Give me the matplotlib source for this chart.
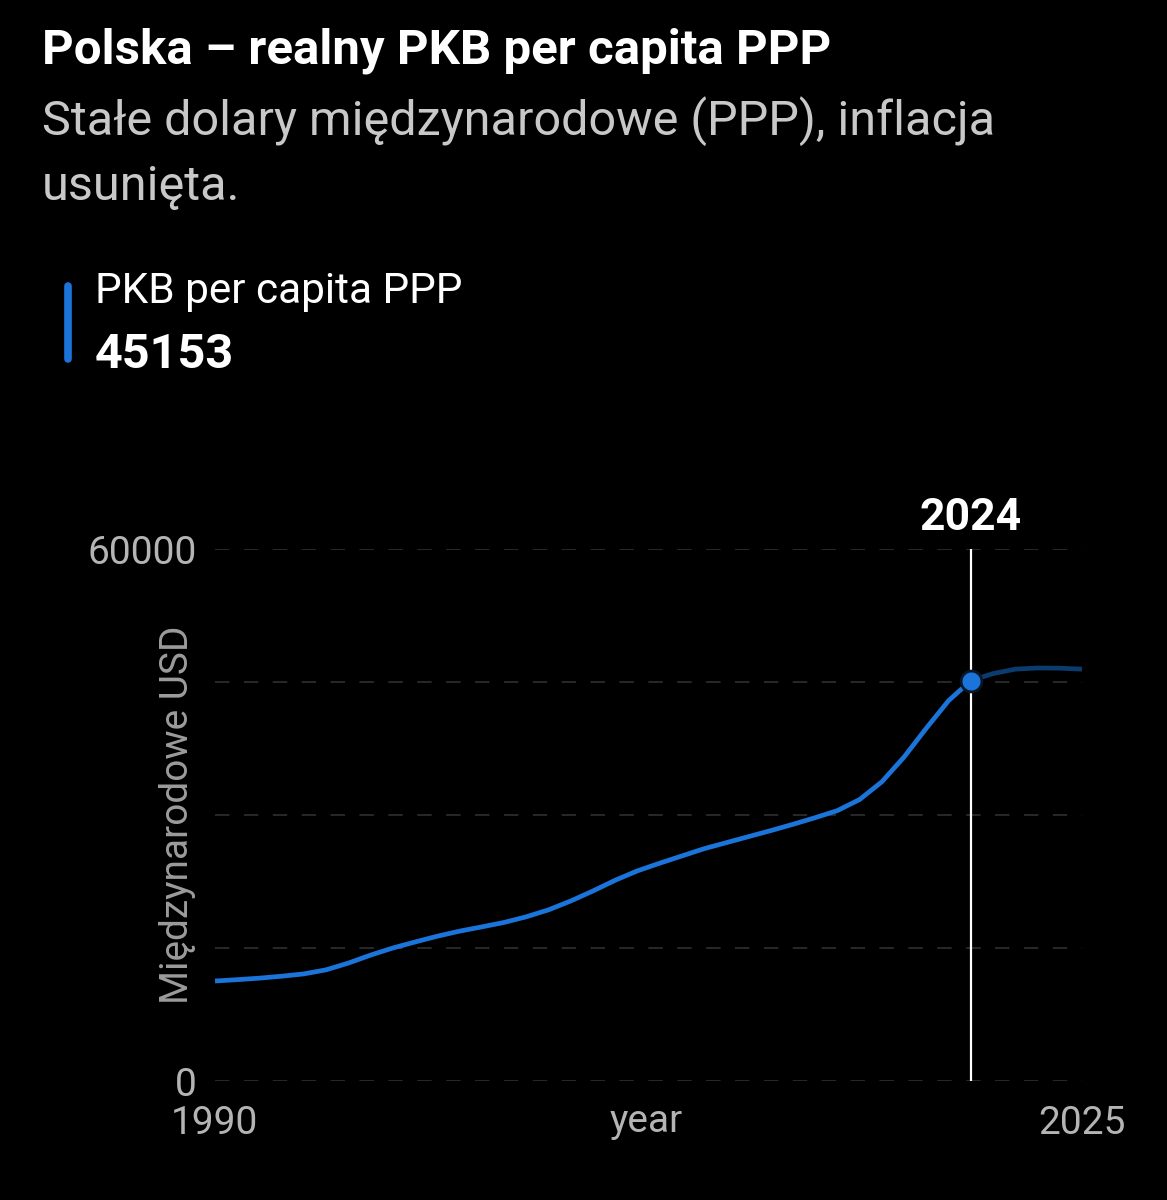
import matplotlib
matplotlib.use('Agg')
import matplotlib.pyplot as plt
from matplotlib.lines import Line2D

W, H = 1167, 1200

years = list(range(1990, 2030))
gdp_pc = [11278, 11430, 11600, 11820, 12080, 12540, 13300, 14200, 15000, 15680,
          16330, 16900, 17380, 17880, 18520, 19300, 20300, 21430, 22640, 23700,
          24560, 25380, 26200, 26880, 27560, 28240, 28950, 29700, 30500, 31750,
          33750, 36550, 39800, 42900, 45153, 45950, 46450, 46580, 46560, 46450]
highlight_year = 2024
y_ticks = [0, 15000, 30000, 45000, 60000]
y_tick_labels = ['0', '', '', '', '60000']
x_tick_labels = ['1990', '2025']

BLUE = '#1a74d9'
BLUE_DIM = '#0b3c70'
GRAY = '#b4b4b4'

plt.rcParams['font.family'] = ['Roboto', 'DejaVu Sans']


def px(x, y):
    '''pixel (od lewego gornego rogu) -> ulamek figury'''
    return x / W, 1 - y / H


fig = plt.figure(figsize=(W / 100, H / 100), dpi=100, facecolor='black')

left, right, top, bottom = 215, 1082, 549, 1081
ax = fig.add_axes([left / W, 1 - bottom / H, (right - left) / W, (bottom - top) / H])
ax.set_facecolor('black')

hi = years.index(highlight_year)
ax.plot(years[hi:], gdp_pc[hi:], color=BLUE_DIM, lw=3.4, solid_joinstyle='round',
        solid_capstyle='butt', zorder=3)
ax.plot(years[:hi + 1], gdp_pc[:hi + 1], color=BLUE, lw=3.4, solid_joinstyle='round',
        solid_capstyle='butt', zorder=4)
ax.axvline(highlight_year, color='white', lw=1.6, zorder=2)
ax.plot([highlight_year], [gdp_pc[hi]], 'o', ms=15, color=BLUE, mec='#0a1626', mew=2, zorder=5)
ax.annotate(str(highlight_year), xy=(highlight_year, y_ticks[-1]), xytext=(0, 14),
            textcoords='offset points', ha='center', va='baseline',
            color='white', fontsize=32, fontweight='bold')

ax.set_xlim(years[0], years[-1])
ax.set_ylim(y_ticks[0], y_ticks[-1])
ax.set_yticks(y_ticks)
ax.set_yticklabels(y_tick_labels)
ax.set_xticks([years[0], years[-1]])
ax.set_xticklabels(x_tick_labels)
ax.tick_params(axis='both', length=0, colors=GRAY, labelsize=28)
ax.tick_params(axis='y', pad=13)
ax.tick_params(axis='x', pad=17)
ax.grid(axis='y', color='#2c2c2c', lw=1.3, ls=(0, (8, 8)))
ax.grid(axis='x', visible=False)
for s in ax.spines.values():
    s.set_visible(False)
ax.set_axisbelow(True)

ax.text(-0.043, 0.5, 'Międzynarodowe USD', transform=ax.transAxes, rotation=90,
        ha='center', va='center', color='#9c9c9c', fontsize=28)
fig.text(*px(646, 1132), 'year', ha='center', va='baseline', color=GRAY, fontsize=28)

# naglowek
fig.text(*px(42, 63), 'Polska – realny PKB per capita PPP', color='white',
         fontsize=35.5, fontweight='bold', va='baseline')
fig.text(*px(42, 135), 'Stałe dolary międzynarodowe (PPP), inflacja', color='#c8c8c8',
         fontsize=35, va='baseline')
fig.text(*px(42, 200), 'usunięta.', color='#c8c8c8', fontsize=35, va='baseline')

# legenda
x0, y0 = px(68, 286)
x1, y1 = px(68, 359)
fig.add_artist(Line2D([x0, x1], [y0, y1], color=BLUE, lw=5.5, solid_capstyle='round'))
fig.text(*px(95, 303), 'PKB per capita PPP', color='white', fontsize=30.5, va='baseline')
fig.text(*px(95, 368), f'{gdp_pc[hi]}', color='white', fontsize=35,
         fontweight='bold', va='baseline')

fig.savefig('out.png', dpi=100, facecolor='black')
